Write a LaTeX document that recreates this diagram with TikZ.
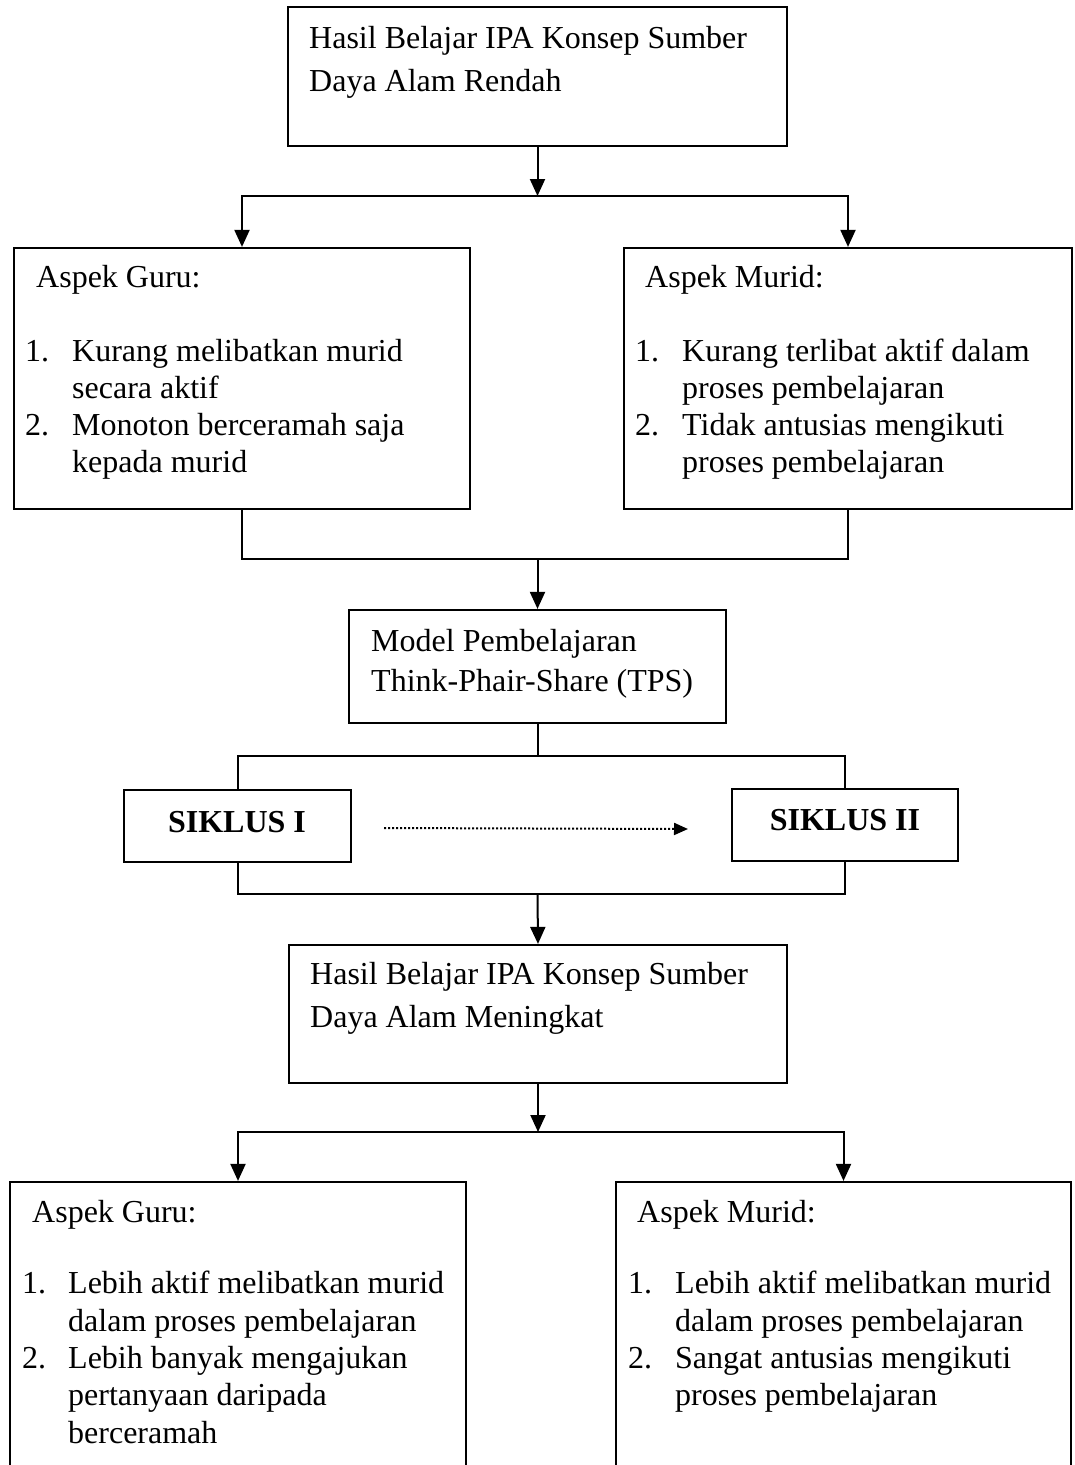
\documentclass[tikz,border=0pt]{standalone}
\usepackage{fontspec}
\setmainfont{Liberation Serif}
\usetikzlibrary{arrows.meta,calc}
\begin{document}
\begin{tikzpicture}[x=1pt,y=-1pt,
  box/.style={draw,line width=2.2pt,rectangle,inner sep=0pt},
  conn/.style={line width=2pt},
  arr/.style={line width=2pt,-{Triangle[width=15pt,length=17pt]}},
  dotarr/.style={line width=2pt,dash pattern=on 2pt off 2pt,-{Triangle[width=12pt,length=14pt]}},
  txt/.style={anchor=base west,inner sep=0pt,font=\fontsize{32}{38}\selectfont},
  btxt/.style={anchor=base,inner sep=0pt,font=\fontsize{32}{38}\selectfont\bfseries}]
\useasboundingbox (0,0) rectangle (1074,1465);
\clip (0,0) rectangle (1074,1465);
% boxes
\node[box,minimum width=499pt,minimum height=139pt] (T) at (537.5,76.5) {};
\node[box,minimum width=456pt,minimum height=261pt] (G1) at (242,378.5) {};
\node[box,minimum width=448pt,minimum height=261pt] (M1) at (848,378.5) {};
\node[box,minimum width=377pt,minimum height=113pt] (P) at (537.5,666.5) {};
\node[box,minimum width=227pt,minimum height=72pt] (S1) at (237.5,826) {};
\node[box,minimum width=226pt,minimum height=72pt] (S2) at (845,825) {};
\node[box,minimum width=498pt,minimum height=138pt] (H) at (538,1014) {};
\node[box,minimum width=456pt,minimum height=318pt] (G2) at (238,1341) {};
\node[box,minimum width=455pt,minimum height=318pt] (M2) at (843.5,1341) {};
% texts
\node[txt] (t1) at (309,48) {Hasil Belajar IPA Konsep Sumber};
\node[txt] (t2) at (309,91) {Daya Alam Rendah};
\node[txt] (g1h) at (36,287) {Aspek Guru:};
\node[txt] (g1n1) at (25,361) {1.};
\node[txt] (g1a) at (72,361) {Kurang melibatkan murid};
\node[txt] (g1b) at (72,398) {secara aktif};
\node[txt] (g1n2) at (25,435) {2.};
\node[txt] (g1c) at (72,435) {Monoton berceramah saja};
\node[txt] (g1d) at (72,472) {kepada murid};
\node[txt] (m1h) at (645,287) {Aspek Murid:};
\node[txt] (m1n1) at (635,361) {1.};
\node[txt] (m1a) at (682,361) {Kurang terlibat aktif dalam};
\node[txt] (m1b) at (682,398) {proses pembelajaran};
\node[txt] (m1n2) at (635,435) {2.};
\node[txt] (m1c) at (682,435) {Tidak antusias mengikuti};
\node[txt] (m1d) at (682,472) {proses pembelajaran};
\node[txt] (p1) at (371,651) {Model Pembelajaran};
\node[txt] (p2) at (371,691) {Think-Phair-Share (TPS)};
\node[btxt] (s1t) at (237,832) {SIKLUS I};
\node[btxt] (s2t) at (845,830) {SIKLUS II};
\node[txt] (h1) at (310,984) {Hasil Belajar IPA Konsep Sumber};
\node[txt] (h2) at (310,1027) {Daya Alam Meningkat};
\node[txt] (g2h) at (32,1222) {Aspek Guru:};
\node[txt] (g2n1) at (22,1293) {1.};
\node[txt] (g2a) at (68,1293) {Lebih aktif melibatkan murid};
\node[txt] (g2b) at (68,1331) {dalam proses pembelajaran};
\node[txt] (g2n2) at (22,1368) {2.};
\node[txt] (g2c) at (68,1368) {Lebih banyak mengajukan};
\node[txt] (g2d) at (68,1405) {pertanyaan daripada};
\node[txt] (g2e) at (68,1443) {berceramah};
\node[txt] (m2h) at (637,1222) {Aspek Murid:};
\node[txt] (m2n1) at (628,1293) {1.};
\node[txt] (m2a) at (675,1293) {Lebih aktif melibatkan murid};
\node[txt] (m2b) at (675,1331) {dalam proses pembelajaran};
\node[txt] (m2n2) at (628,1368) {2.};
\node[txt] (m2c) at (675,1368) {Sangat antusias mengikuti};
\node[txt] (m2d) at (675,1405) {proses pembelajaran};
% junctions
\coordinate (j1) at (537.5,196);
\coordinate (j2) at (537.5,559);
\coordinate (j3) at (537.5,756);
\coordinate (j4) at (537.5,894);
\coordinate (j5) at (538,1132);
\coordinate (d1) at (384,828);
\coordinate (d2) at (688,829);
% connectors
\draw[arr] (T.south) -- (j1);
\draw[arr] (j1) -| (G1.north);
\draw[arr] (j1) -| (M1.north);
\draw[conn] (G1.south) |- (j2) -| (M1.south);
\draw[arr] (j2) -- (P.north);
\draw[conn] (P.south) -- (j3);
\draw[conn] (S1.north) |- (j3) -| (S2.north);
\draw[conn] (S1.south) |- (j4) -| (S2.south);
\draw[arr] (j4) -- (H.north);
\draw[dotarr] (d1) -- (d2);
\draw[arr] (H.south) -- (j5);
\draw[arr] (j5) -| (G2.north);
\draw[arr] (j5) -| (M2.north);
\end{tikzpicture}
\end{document}
